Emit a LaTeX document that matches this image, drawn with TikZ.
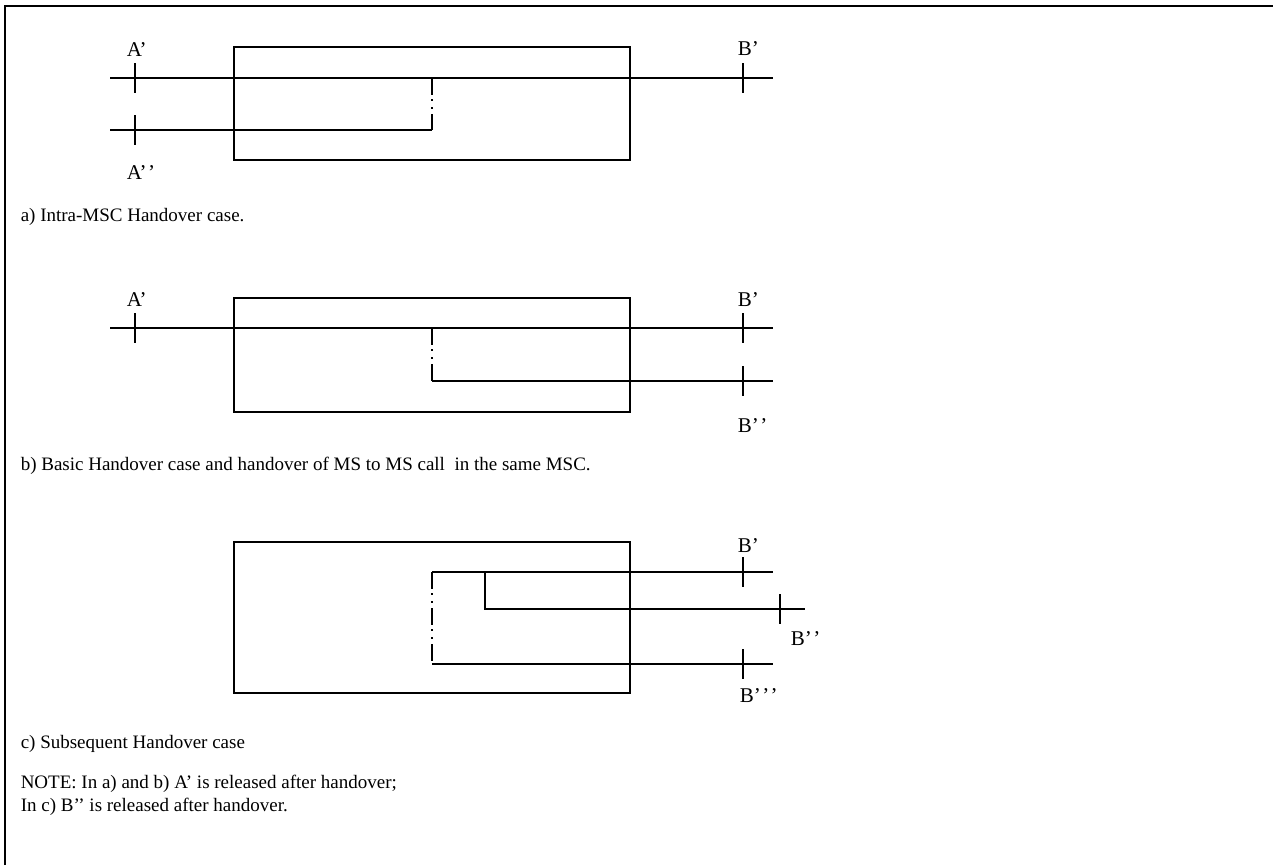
\documentclass[tikz,border=0pt]{standalone}
\usepackage{fontspec}
\setmainfont{Liberation Serif}
\usetikzlibrary{positioning}
\newcommand{\qq}{’\kern1.5pt’}
\begin{document}
\begin{tikzpicture}[x=1pt,y=-1pt,line width=1.5pt,
    lbl/.style={inner sep=0pt,anchor=west,font=\fontsize{21}{25}\selectfont},
    captxt/.style={inner sep=0pt,anchor=west,font=\fontsize{19}{23}\selectfont},
    handover/.style={dash pattern=on 17pt off 4pt on 2pt off 6pt on 2pt off 5pt}]
    \useasboundingbox (0,0) rectangle (1273,865);
    \draw[line width=1.2pt] (5,865) -- (5,6) -- (1273,6);
    % a) intra-MSC
    \coordinate (aL1) at (110,78);  \coordinate (aR1) at (773,78);
    \coordinate (aL2) at (110,130); \coordinate (aJ2) at (432,130);
    \coordinate (aJ1) at (432,78);
    \coordinate (aA1) at (135,78);  \coordinate (aA2) at (135,130);
    \coordinate (aB1) at (743,78);
    \draw (234,47) rectangle (630,160);
    \draw (aL1) -- (aR1);
    \draw (aL2) -- (aJ2);
    \draw[handover] (aJ1) -- (aJ2);
    \foreach \p in {aA1,aA2,aB1}
        \draw ([yshift=15pt]\p) -- ([yshift=-15pt]\p);
    \node[lbl] (aAp)  at (126,50)  {A’};
    \node[lbl] (aApp) at (126,173) {A\qq};
    \node[lbl] (aBp)  at (737,49)  {B’};
    \node[captxt] (acap) at (20,217)  {a) Intra-MSC Handover case.};
    % b) basic
    \coordinate (bL1) at (110,328); \coordinate (bR1) at (773,328);
    \coordinate (bJ1) at (432,328); \coordinate (bJ2) at (432,381);
    \coordinate (bR2) at (773,381);
    \coordinate (bA1) at (135,328); \coordinate (bB1) at (743,328);
    \coordinate (bB2) at (743,381);
    \draw (234,298) rectangle (630,412);
    \draw (bL1) -- (bR1);
    \draw (bJ2) -- (bR2);
    \draw[handover] (bJ1) -- (bJ2);
    \foreach \p in {bA1,bB1,bB2}
        \draw ([yshift=15pt]\p) -- ([yshift=-15pt]\p);
    \node[lbl] (bAp)  at (126,300) {A’};
    \node[lbl] (bBp)  at (737,300) {B’};
    \node[lbl] (bBpp) at (737,426) {B\qq};
    \node[captxt] (bcap) at (20,466)  {b) Basic Handover case and handover of MS to MS call \ in the same MSC.};
    % c) subsequent
    \coordinate (cJ1) at (432,572); \coordinate (cR1) at (773,572);
    \coordinate (cK1) at (485,572); \coordinate (cK2) at (485,609);
    \coordinate (cR2) at (805,609);
    \coordinate (cJ3) at (432,664); \coordinate (cR3) at (773,664);
    \coordinate (cB1) at (743,572); \coordinate (cB2) at (780,609);
    \coordinate (cB3) at (743,664);
    \draw (234,542) rectangle (630,693);
    \draw (cJ1) -- (cR1);
    \draw (cK1) -- (cK2) -- (cR2);
    \draw (cJ3) -- (cR3);
    \draw[handover] (cJ1) -- (cJ3);
    \foreach \p in {cB1,cB2,cB3}
        \draw ([yshift=15pt]\p) -- ([yshift=-15pt]\p);
    \node[lbl] (cBp)   at (737,546) {B’};
    \node[lbl] (cBpp)  at (790,639) {B\qq};
    \node[lbl] (cBppp) at (739,696) {B\qq\kern1.5pt’};
    \node[captxt] (ccap)  at (20,744)  {c) Subsequent Handover case};
    \node[captxt] (note1) at (20,784)  {NOTE: In a) and b) A’ is released after handover;};
    \node[captxt] (note2) at (20,807)  {In c) B’’ is released after handover.};
\end{tikzpicture}
\end{document}
